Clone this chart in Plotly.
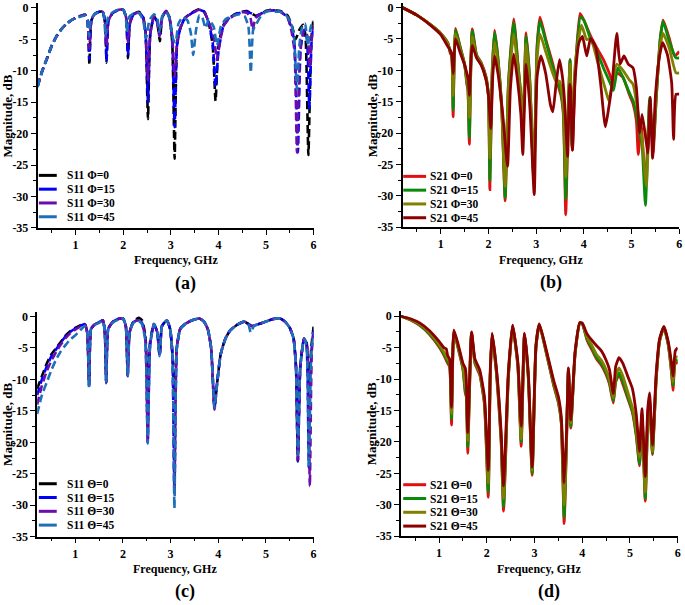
import plotly.graph_objects as go

W, H = 685, 605

# ---------------- data (frequency GHz, magnitude dB) ----------------
# Panel (a): S11 vs Phi
s11_phi0 = [(0.2,-12.5),(0.3,-10),(0.4,-8),(0.5,-6),(0.6,-4.5),(0.7,-3.4),(0.8,-2.6),(0.9,-2),(1.0,-1.6),(1.1,-1.3),(1.2,-1.1),(1.25,-2),(1.29,-9),(1.33,-2),(1.4,-1),(1.5,-0.6),(1.57,-0.6),(1.62,-2.5),(1.65,-8.7),(1.69,-2),(1.78,-0.8),(1.9,-0.3),(2.0,-0.3),(2.06,-1.5),(2.1,-8),(2.14,-2.5),(2.22,-1),(2.33,-0.6),(2.42,-1.5),(2.47,-4),(2.52,-17.7),(2.57,-4),(2.65,-1.3),(2.72,-2.5),(2.77,-5.3),(2.82,-1.5),(2.9,-0.5),(2.97,-1.5),(3.03,-5.5),(3.08,-24),(3.13,-6),(3.2,-3.2),(3.3,-1.6),(3.45,-0.7),(3.6,-0.2),(3.7,-0.6),(3.8,-2.5),(3.88,-6),(3.94,-14.8),(4.0,-6),(4.1,-2.8),(4.2,-1.8),(4.35,-1),(4.5,-0.6),(4.6,-0.5),(4.7,-0.9),(4.8,-1.3),(4.9,-0.9),(5.0,-0.5),(5.1,-0.3),(5.2,-0.4),(5.3,-0.5),(5.45,-1.2),(5.55,-3),(5.62,-5),(5.7,-3.5),(5.78,-2.7),(5.83,-4.5),(5.89,-23.4),(5.95,-5),(6.0,-1.6)]
s11_phi15 = [(0.2,-12.5),(0.3,-10),(0.4,-8),(0.5,-6),(0.6,-4.5),(0.7,-3.4),(0.8,-2.6),(0.9,-2),(1.0,-1.6),(1.1,-1.3),(1.2,-1.1),(1.25,-2),(1.29,-8.2),(1.33,-2),(1.4,-1),(1.5,-0.6),(1.57,-0.6),(1.62,-2.5),(1.65,-8.5),(1.69,-2),(1.78,-0.8),(1.9,-0.3),(2.0,-0.3),(2.06,-1.5),(2.1,-7.5),(2.14,-2.5),(2.22,-1),(2.33,-0.7),(2.42,-1.6),(2.47,-4),(2.52,-15),(2.57,-4),(2.65,-1.3),(2.72,-2.3),(2.77,-4.3),(2.82,-1.5),(2.9,-0.5),(2.97,-1.5),(3.03,-5),(3.08,-19),(3.13,-6),(3.2,-3.2),(3.3,-1.6),(3.45,-0.8),(3.6,-0.3),(3.7,-0.6),(3.8,-2.5),(3.88,-5.5),(3.94,-12.5),(4.0,-7),(4.1,-3),(4.2,-1.8),(4.35,-1),(4.5,-0.7),(4.6,-0.6),(4.7,-0.9),(4.8,-1.2),(4.9,-0.9),(5.0,-0.5),(5.1,-0.4),(5.2,-0.4),(5.3,-0.6),(5.45,-1.5),(5.55,-3.5),(5.6,-6),(5.67,-23),(5.73,-6),(5.8,-3.5),(5.86,-5),(5.91,-16),(5.96,-5),(6.0,-3)]
s11_phi30 = [(0.2,-12.5),(0.3,-10),(0.4,-8),(0.5,-6),(0.6,-4.5),(0.7,-3.4),(0.8,-2.6),(0.9,-2),(1.0,-1.6),(1.1,-1.3),(1.2,-1.1),(1.25,-2),(1.29,-6.5),(1.33,-2),(1.4,-1),(1.5,-0.6),(1.57,-0.6),(1.62,-2.3),(1.65,-6),(1.69,-2),(1.78,-0.8),(1.9,-0.3),(2.0,-0.3),(2.06,-1.5),(2.1,-5.5),(2.14,-2.3),(2.22,-1),(2.33,-0.8),(2.42,-1.8),(2.47,-4),(2.52,-11.5),(2.57,-4),(2.65,-1.3),(2.71,-2.2),(2.76,-4.5),(2.82,-1.5),(2.9,-0.5),(2.97,-1.6),(3.03,-4.5),(3.08,-11),(3.13,-5.5),(3.2,-3.2),(3.3,-1.6),(3.45,-0.8),(3.6,-0.3),(3.7,-0.6),(3.8,-2.3),(3.9,-4.5),(3.97,-8.3),(4.03,-5.5),(4.1,-3),(4.2,-1.9),(4.35,-1.1),(4.5,-0.7),(4.6,-0.8),(4.67,-1.5),(4.72,-3.5),(4.78,-1.6),(4.9,-0.9),(5.0,-0.5),(5.1,-0.4),(5.2,-0.4),(5.3,-0.6),(5.45,-1.5),(5.53,-3.5),(5.6,-7),(5.65,-23),(5.72,-7),(5.8,-3.5),(5.87,-4.5),(5.92,-9.5),(5.96,-5),(6.0,-3)]
s11_phi45 = [(0.2,-12.6),(0.3,-10),(0.4,-8),(0.5,-6),(0.6,-4.5),(0.7,-3.4),(0.8,-2.6),(0.9,-2),(1.0,-1.6),(1.1,-1.4),(1.2,-1.2),(1.25,-2),(1.28,-4.5),(1.32,-1.8),(1.4,-1),(1.5,-0.7),(1.58,-0.8),(1.63,-4.5),(1.68,-1.5),(1.78,-0.7),(1.9,-0.3),(2.0,-0.3),(2.05,-1.2),(2.08,-3.8),(2.12,-1.5),(2.22,-0.9),(2.33,-0.8),(2.42,-2),(2.48,-4.8),(2.55,-2),(2.65,-1),(2.72,-1.8),(2.76,-3.8),(2.82,-1.3),(2.9,-0.6),(2.98,-1.8),(3.05,-5),(3.1,-5.5),(3.16,-2.5),(3.25,-1.5),(3.35,-2),(3.42,-4),(3.47,-7.5),(3.53,-3.5),(3.6,-1.2),(3.66,-1.5),(3.73,-3.2),(3.8,-1.8),(3.9,-3),(3.97,-6),(4.05,-3),(4.15,-1.8),(4.3,-1.3),(4.45,-1),(4.55,-1.3),(4.63,-3),(4.68,-10.3),(4.73,-3.5),(4.8,-2.5),(4.9,-1.2),(5.0,-0.6),(5.1,-0.5),(5.2,-0.6),(5.3,-0.6),(5.4,-1),(5.5,-2),(5.58,-4),(5.65,-13),(5.7,-6),(5.76,-3),(5.82,-2.5),(5.88,-6),(5.94,-3),(6.0,-2)]

# Panel (b): S21 vs Phi
s21_phi0 = [(0.2,0),(0.5,-1.2),(0.8,-2.8),(1.0,-4.1),(1.15,-5.6),(1.2,-7.3),(1.23,-7.6),(1.26,-17.4),(1.31,-3.3),(1.4,-6),(1.5,-9),(1.55,-12.3),(1.57,-13),(1.6,-21.8),(1.66,-3.4),(1.75,-7.5),(1.85,-8.8),(1.95,-11),(2.0,-14),(2.03,-29),(2.08,-10),(2.13,-3.6),(2.2,-8),(2.28,-16),(2.35,-30.8),(2.42,-12),(2.53,-1.8),(2.62,-9),(2.68,-14),(2.72,-21),(2.79,-4),(2.87,-12),(2.95,-27),(3.02,-6),(3.08,-1.5),(3.2,-5),(3.35,-9),(3.45,-12.2),(3.52,-14),(3.57,-17),(3.62,-33),(3.67,-18),(3.71,-8.3),(3.76,-22.7),(3.82,-10),(3.92,-0.9),(4.0,-2),(4.14,-4.5),(4.3,-6.8),(4.41,-8.3),(4.55,-10.8),(4.62,-12.2),(4.69,-10.4),(4.82,-11.1),(4.95,-13.8),(5.03,-15.3),(5.1,-18),(5.14,-23.4),(5.2,-18.5),(5.29,-28.4),(5.38,-14.8),(5.45,-23.2),(5.52,-14),(5.6,-5),(5.66,-2),(5.79,-4.9),(5.9,-7.7),(6.0,-7)]
s21_phi15 = [(0.2,0),(0.5,-1.2),(0.8,-2.8),(1.0,-4.1),(1.15,-5.7),(1.2,-7),(1.23,-7.4),(1.26,-16.3),(1.31,-3.6),(1.4,-6.1),(1.5,-9),(1.55,-12),(1.57,-12.8),(1.6,-20.7),(1.66,-3.7),(1.75,-7.6),(1.85,-8.9),(1.95,-11.2),(2.0,-14),(2.03,-27.5),(2.08,-10),(2.13,-3.9),(2.2,-8.2),(2.28,-16),(2.35,-30.3),(2.42,-12.2),(2.53,-2.3),(2.62,-9.3),(2.68,-14),(2.72,-20.5),(2.79,-4.5),(2.87,-12.2),(2.95,-27.5),(3.02,-6.5),(3.08,-2.1),(3.2,-5.3),(3.35,-9.5),(3.45,-11.7),(3.52,-13.5),(3.57,-16.5),(3.62,-30.5),(3.67,-17.5),(3.71,-8.3),(3.75,-22.1),(3.82,-10),(3.93,-1.5),(4.0,-2),(4.14,-5),(4.3,-7.5),(4.41,-9.6),(4.55,-12),(4.62,-13.2),(4.71,-9.6),(4.82,-11.1),(4.95,-13.5),(5.03,-14.8),(5.1,-17),(5.17,-20),(5.22,-22),(5.29,-31.5),(5.38,-14.3),(5.45,-22.1),(5.52,-14),(5.6,-5),(5.66,-2.2),(5.79,-5.4),(5.93,-8),(6.0,-8)]
s21_phi30 = [(0.2,0),(0.5,-1.2),(0.8,-2.8),(1.0,-4.1),(1.15,-5.8),(1.2,-6.8),(1.23,-7.2),(1.26,-14),(1.31,-4.2),(1.4,-6.5),(1.5,-9),(1.55,-11.5),(1.57,-12.3),(1.6,-17.5),(1.66,-4.6),(1.75,-7.8),(1.85,-9),(1.95,-11.5),(2.0,-14),(2.03,-24),(2.08,-10.5),(2.13,-5.5),(2.2,-9),(2.28,-16.5),(2.35,-28.5),(2.42,-13),(2.53,-4.2),(2.62,-10),(2.68,-14.5),(2.72,-19.5),(2.79,-5.8),(2.87,-13),(2.95,-26.5),(3.02,-8),(3.08,-4.2),(3.2,-7),(3.35,-10.5),(3.43,-12),(3.49,-11.7),(3.55,-14),(3.58,-17),(3.62,-27),(3.67,-16),(3.71,-9),(3.75,-19),(3.82,-9),(3.95,-2.8),(4.06,-5.1),(4.14,-4.9),(4.3,-9),(4.45,-13),(4.52,-14.8),(4.6,-12),(4.69,-9),(4.82,-10),(4.95,-11.5),(5.03,-12.2),(5.1,-15),(5.17,-18.5),(5.22,-21),(5.31,-28.4),(5.38,-16.4),(5.45,-21),(5.52,-13),(5.6,-6),(5.66,-4.1),(5.79,-6.5),(5.93,-10.4),(6.0,-10.4)]
s21_phi45 = [(0.2,0),(0.5,-1.2),(0.8,-2.9),(1.0,-4.3),(1.15,-6.2),(1.2,-6.8),(1.23,-7.4),(1.26,-10.5),(1.31,-5),(1.4,-7),(1.5,-9.1),(1.55,-10.5),(1.58,-11.5),(1.6,-14),(1.66,-6),(1.75,-8),(1.85,-9.2),(1.95,-11.5),(2.0,-14),(2.05,-19.3),(2.09,-11),(2.13,-7.7),(2.2,-10.5),(2.3,-17),(2.4,-25.3),(2.46,-13),(2.53,-7.4),(2.6,-11),(2.68,-17),(2.72,-23.4),(2.79,-9),(2.87,-16),(2.96,-29.8),(3.02,-11),(3.1,-7.7),(3.2,-10.5),(3.3,-15.5),(3.35,-16.6),(3.42,-12),(3.49,-8.3),(3.55,-11),(3.59,-14.3),(3.66,-23.7),(3.7,-12.2),(3.72,-13),(3.76,-22.7),(3.82,-11),(3.9,-5.5),(3.97,-4.6),(4.06,-7.7),(4.14,-4.9),(4.25,-6.4),(4.35,-12),(4.45,-19),(4.52,-16),(4.59,-12.2),(4.69,-4.1),(4.76,-9),(4.84,-7.7),(4.93,-9),(5.03,-9.6),(5.1,-12.7),(5.17,-20),(5.22,-17),(5.3,-21),(5.34,-23.2),(5.39,-14.3),(5.44,-24),(5.5,-14),(5.58,-8),(5.65,-5.6),(5.75,-7.5),(5.84,-12),(5.88,-21),(5.93,-13.8),(6.0,-13.8)]

# Panel (c): S11 vs Theta
s11_th0 = [(0.2,-11.5),(0.3,-9.5),(0.4,-7.5),(0.5,-6),(0.6,-5),(0.7,-4),(0.8,-3),(0.9,-2.3),(1.0,-1.8),(1.1,-1.4),(1.2,-1.2),(1.25,-2.5),(1.29,-11),(1.33,-2),(1.4,-1.3),(1.5,-0.9),(1.58,-0.6),(1.62,-2.5),(1.65,-10.5),(1.69,-2),(1.78,-0.9),(1.9,-0.4),(2.0,-0.3),(2.06,-1.5),(2.1,-9.3),(2.14,-2.5),(2.22,-0.8),(2.33,-0.2),(2.4,-0.6),(2.47,-3),(2.52,-10.8),(2.57,-4),(2.65,-1.2),(2.72,-2.5),(2.77,-6.2),(2.82,-1.5),(2.92,-0.6),(2.99,-2),(3.04,-6),(3.08,-13),(3.13,-5),(3.2,-2),(3.3,-1.2),(3.45,-0.6),(3.6,-0.3),(3.7,-0.8),(3.78,-2),(3.85,-5),(3.92,-14.5),(3.97,-11),(4.05,-6),(4.15,-3.5),(4.25,-2.2),(4.4,-1.3),(4.55,-0.8),(4.7,-1.5),(4.85,-1.2),(5.0,-0.8),(5.15,-0.4),(5.3,-0.3),(5.4,-0.8),(5.5,-1.8),(5.58,-3.5),(5.63,-8),(5.67,-23),(5.72,-8),(5.8,-3.5),(5.85,-4),(5.9,-12),(5.95,-5),(6.0,-1.6)]
s11_th15 = [(0.2,-12.5),(0.3,-10),(0.4,-8),(0.5,-6.3),(0.6,-5.2),(0.7,-4.1),(0.8,-3.1),(0.9,-2.4),(1.0,-1.9),(1.1,-1.5),(1.2,-1.2),(1.25,-2.5),(1.29,-11),(1.33,-2),(1.4,-1.3),(1.5,-0.9),(1.58,-0.6),(1.62,-2.5),(1.65,-10.5),(1.69,-2),(1.78,-0.9),(1.9,-0.4),(2.0,-0.3),(2.06,-1.5),(2.1,-9.5),(2.14,-2.5),(2.22,-0.9),(2.33,-0.5),(2.4,-1),(2.47,-3.5),(2.52,-20),(2.57,-4.5),(2.65,-1.2),(2.72,-2.5),(2.77,-6.3),(2.82,-1.5),(2.92,-0.6),(2.99,-2),(3.04,-6.5),(3.08,-28),(3.13,-5),(3.2,-2),(3.3,-1.2),(3.45,-0.6),(3.6,-0.3),(3.7,-0.8),(3.78,-2),(3.85,-5),(3.92,-14.5),(3.97,-11),(4.05,-6),(4.15,-3.5),(4.25,-2.2),(4.4,-1.3),(4.55,-0.8),(4.7,-1.5),(4.85,-1.2),(5.0,-0.8),(5.15,-0.4),(5.3,-0.3),(5.4,-0.8),(5.5,-1.8),(5.58,-3.5),(5.63,-8),(5.67,-23),(5.72,-8),(5.8,-3.5),(5.85,-4.5),(5.9,-24),(5.95,-6),(6.0,-2)]
s11_th30 = [(0.2,-14),(0.3,-11),(0.4,-8.7),(0.5,-7),(0.6,-5.6),(0.7,-4.4),(0.8,-3.4),(0.9,-2.6),(1.0,-2.1),(1.1,-1.6),(1.2,-1.3),(1.25,-2.5),(1.29,-11),(1.33,-2),(1.4,-1.3),(1.5,-0.9),(1.58,-0.6),(1.62,-2.5),(1.65,-10.5),(1.69,-2),(1.78,-0.9),(1.9,-0.4),(2.0,-0.3),(2.06,-1.5),(2.1,-9.5),(2.14,-2.5),(2.22,-0.9),(2.33,-0.6),(2.4,-1.1),(2.47,-3.5),(2.52,-20),(2.57,-4.5),(2.65,-1.2),(2.72,-2.5),(2.77,-6),(2.82,-1.5),(2.92,-0.6),(2.99,-2),(3.04,-6.5),(3.08,-28.3),(3.13,-5),(3.2,-2),(3.3,-1.2),(3.45,-0.6),(3.6,-0.3),(3.7,-0.8),(3.78,-2),(3.85,-5),(3.92,-14.8),(3.97,-11),(4.05,-6),(4.15,-3.5),(4.25,-2.2),(4.4,-1.3),(4.55,-0.8),(4.7,-1.5),(4.85,-1.2),(5.0,-0.8),(5.15,-0.4),(5.3,-0.3),(5.4,-0.8),(5.5,-1.8),(5.58,-3.5),(5.63,-8),(5.67,-23),(5.72,-8),(5.8,-3.5),(5.86,-4.5),(5.92,-27),(5.96,-6),(6.0,-2.5)]
s11_th45 = [(0.2,-15.5),(0.3,-12.5),(0.4,-10.5),(0.5,-8.5),(0.6,-6.8),(0.7,-5.5),(0.8,-4.5),(0.9,-3.6),(1.0,-3),(1.1,-2.2),(1.2,-1.5),(1.25,-2.5),(1.29,-11.3),(1.33,-2),(1.4,-1.4),(1.5,-1),(1.58,-0.7),(1.62,-2.5),(1.65,-10.6),(1.69,-2),(1.78,-1),(1.9,-0.5),(2.0,-0.3),(2.06,-1.5),(2.1,-9.5),(2.14,-2.5),(2.22,-1),(2.33,-0.7),(2.4,-1.2),(2.47,-3.8),(2.52,-20.2),(2.57,-4.5),(2.65,-1.2),(2.72,-2.5),(2.77,-6.3),(2.82,-1.5),(2.92,-0.6),(2.99,-2),(3.04,-6.5),(3.08,-30.5),(3.13,-5),(3.2,-2),(3.3,-1.2),(3.45,-0.6),(3.6,-0.3),(3.7,-0.8),(3.78,-2),(3.85,-5),(3.92,-14.5),(3.97,-11),(4.05,-6),(4.15,-3.5),(4.25,-2.2),(4.4,-1.3),(4.55,-0.8),(4.63,-1.2),(4.68,-2.5),(4.75,-1.5),(4.85,-1.2),(5.0,-0.8),(5.15,-0.4),(5.3,-0.3),(5.4,-0.8),(5.5,-1.8),(5.58,-3.5),(5.63,-8),(5.67,-22),(5.72,-8),(5.8,-3.5),(5.85,-4.5),(5.9,-24),(5.95,-6),(6.0,-2.5)]

# Panel (d): S21 vs Theta
s21_th0 = [(0.2,0),(0.4,-0.6),(0.6,-1.5),(0.8,-2.9),(1.0,-4.9),(1.1,-6.2),(1.18,-7.5),(1.22,-8),(1.26,-17.3),(1.31,-2.6),(1.4,-5.2),(1.5,-8.5),(1.55,-12.3),(1.57,-12.8),(1.6,-21.8),(1.68,-2.8),(1.75,-7.5),(1.85,-9.3),(1.95,-14),(2.03,-28.8),(2.07,-10),(2.11,-3),(2.2,-9),(2.3,-20),(2.35,-31),(2.45,-10),(2.54,-1.6),(2.65,-8),(2.72,-20.7),(2.79,-3),(2.87,-10),(2.95,-25.3),(3.03,-5),(3.1,-1.4),(3.25,-6),(3.4,-11),(3.5,-13.8),(3.56,-17),(3.62,-33),(3.67,-20),(3.71,-8.5),(3.76,-17.8),(3.85,-6),(3.95,-1.1),(4.0,-1.2),(4.1,-3.8),(4.2,-5.3),(4.3,-6.8),(4.4,-7.8),(4.5,-9.3),(4.57,-10.8),(4.65,-13.8),(4.7,-10.5),(4.77,-9.3),(4.85,-10.8),(4.95,-13),(5.05,-15.3),(5.13,-19),(5.2,-23.8),(5.25,-16),(5.32,-29.4),(5.37,-17),(5.41,-13.5),(5.47,-22),(5.55,-10),(5.62,-4),(5.71,-1.8),(5.8,-4.5),(5.87,-9),(5.9,-11.8),(5.95,-7),(6.0,-7.6)]
s21_th15 = [(0.2,0),(0.4,-0.55),(0.6,-1.4),(0.8,-2.8),(1.0,-4.7),(1.1,-6),(1.18,-7.2),(1.22,-7.7),(1.26,-16.3),(1.31,-2.5),(1.4,-5),(1.5,-8.3),(1.55,-12),(1.57,-12.5),(1.6,-20.8),(1.68,-2.7),(1.75,-7.3),(1.85,-9.1),(1.95,-13.7),(2.03,-28),(2.07,-10),(2.11,-2.9),(2.2,-8.8),(2.3,-19.7),(2.35,-30.3),(2.45,-9.8),(2.54,-1.5),(2.65,-7.9),(2.72,-20),(2.79,-2.9),(2.87,-9.8),(2.95,-25),(3.03,-4.9),(3.1,-1.3),(3.25,-5.9),(3.4,-10.8),(3.5,-13.6),(3.56,-16.8),(3.62,-32),(3.67,-19.8),(3.71,-8.4),(3.76,-17.5),(3.85,-5.9),(3.95,-1.1),(4.0,-1.2),(4.1,-3.6),(4.2,-5),(4.3,-6.6),(4.4,-7.5),(4.5,-9),(4.57,-10.5),(4.65,-13.5),(4.7,-10.3),(4.77,-9),(4.85,-10.4),(4.95,-12.7),(5.05,-15),(5.13,-18.7),(5.2,-23.5),(5.25,-15.8),(5.32,-29),(5.37,-16.8),(5.41,-13.3),(5.47,-21.8),(5.55,-9.8),(5.62,-3.9),(5.71,-1.8),(5.8,-4.4),(5.87,-8.8),(5.9,-11),(5.95,-6.8),(6.0,-7.2)]
s21_th30 = [(0.2,0),(0.4,-0.5),(0.6,-1.3),(0.8,-2.6),(1.0,-4.5),(1.1,-5.7),(1.18,-6.8),(1.22,-7.3),(1.26,-15.5),(1.31,-2.4),(1.4,-4.8),(1.5,-8),(1.55,-11),(1.57,-11.8),(1.6,-19.8),(1.68,-2.6),(1.75,-7.1),(1.85,-8.9),(1.95,-13.3),(2.03,-26.5),(2.07,-9.5),(2.11,-2.8),(2.2,-8.5),(2.3,-19.2),(2.35,-29),(2.45,-9.5),(2.54,-1.5),(2.65,-7.6),(2.72,-19.5),(2.79,-2.8),(2.87,-9.5),(2.95,-24.5),(3.03,-4.7),(3.1,-1.3),(3.25,-5.7),(3.4,-10.5),(3.5,-13.3),(3.56,-16.5),(3.62,-30),(3.67,-19.3),(3.71,-8.3),(3.76,-17),(3.85,-5.8),(3.95,-1.1),(4.0,-1.2),(4.1,-3.3),(4.2,-4.6),(4.3,-6.1),(4.4,-7),(4.5,-8.5),(4.57,-10),(4.65,-13),(4.7,-9.5),(4.77,-8.2),(4.85,-9.5),(4.95,-12),(5.05,-14.5),(5.13,-18),(5.2,-22.5),(5.25,-15.4),(5.32,-28),(5.37,-16.3),(5.41,-13),(5.47,-21.5),(5.55,-9.5),(5.62,-3.8),(5.71,-1.7),(5.8,-4.3),(5.87,-8.3),(5.9,-10.5),(5.95,-6.5),(6.0,-6.5)]
s21_th45 = [(0.2,0),(0.4,-0.4),(0.6,-1.1),(0.8,-2.3),(1.0,-4),(1.1,-5),(1.15,-5.2),(1.18,-6.3),(1.22,-6.8),(1.26,-14.5),(1.31,-2.2),(1.4,-4.5),(1.5,-7.5),(1.55,-8.3),(1.57,-10),(1.6,-18.5),(1.68,-2.5),(1.75,-6.8),(1.85,-8.5),(1.95,-12.8),(2.03,-24.5),(2.07,-9),(2.11,-2.7),(2.2,-8.2),(2.3,-18.5),(2.35,-27),(2.45,-9),(2.54,-1.4),(2.65,-7.3),(2.72,-17.5),(2.79,-2.7),(2.87,-9.2),(2.95,-24),(3.03,-4.5),(3.1,-1.2),(3.25,-5.5),(3.4,-10.2),(3.5,-12.8),(3.56,-16),(3.62,-26.5),(3.67,-18.5),(3.71,-8.2),(3.76,-16.5),(3.85,-5.6),(3.95,-1),(4.0,-1.1),(4.1,-2.8),(4.2,-3.8),(4.3,-4.7),(4.4,-5.5),(4.5,-7),(4.57,-8.5),(4.65,-12.3),(4.7,-8),(4.77,-6.6),(4.85,-7.5),(4.95,-9.5),(5.05,-11.5),(5.13,-15.5),(5.2,-21.5),(5.25,-14.7),(5.32,-25.5),(5.37,-15),(5.41,-12.2),(5.47,-20.5),(5.55,-9),(5.62,-3.6),(5.71,-1.6),(5.8,-4),(5.87,-7.5),(5.9,-9.5),(5.95,-5.5),(6.0,-5)]

names_a = ["S11 \u03a6=0", "S11 \u03a6=15", "S11 \u03a6=30", "S11 \u03a6=45"]
names_b = ["S21 \u03a6=0", "S21 \u03a6=15", "S21 \u03a6=30", "S21 \u03a6=45"]
names_c = ["S11 \u0398=0", "S11 \u0398=15", "S11 \u0398=30", "S11 \u0398=45"]
names_d = ["S21 \u0398=0", "S21 \u0398=15", "S21 \u0398=30", "S21 \u0398=45"]
x_ticks = [1, 2, 3, 4, 5, 6]
y_ticks = [0, -5, -10, -15, -20, -25, -30, -35]
panel_labels = ["(a)", "(b)", "(c)", "(d)"]

# ---------------- styling ----------------
FONT = "Liberation Serif"
S11_COLORS = ["#000000", "#0000ff", "#6a0dad", "#1f6fb8"]
S21_COLORS = ["#e01010", "#0a8a0a", "#808000", "#8b0000"]

# panel pixel geometry: x at f=0.2, x at f=6, y at 0 dB, y at -35 dB
GEOM = [
    (37.7, 315.0, 6.0, 229.3),
    (404.3, 682.3, 5.7, 228.7),
    (37.3, 315.0, 319.3, 542.7),
    (402.7, 680.7, 319.0, 542.3),
]
YTOP = 0.8
# legend geometry (pixels): first row centre, swatch start/end, text left
LEG = [
    (176, 39, 57, 65),
    (177, 405, 428, 430),
    (489, 39, 57, 65),
    (490, 405, 428, 430),
]
ROW_STEP = 14.0

def unzip(pairs):
    return [p[0] for p in pairs], [p[1] for p in pairs]

fig = go.Figure()

panels = [
    ([s11_phi0, s11_phi15, s11_phi30, s11_phi45], names_a, S11_COLORS, True),
    ([s21_phi0, s21_phi15, s21_phi30, s21_phi45], names_b, S21_COLORS, False),
    ([s11_th0, s11_th15, s11_th30, s11_th45], names_c, S11_COLORS, True),
    ([s21_th0, s21_th15, s21_th30, s21_th45], names_d, S21_COLORS, False),
]

layout = dict(
    width=W, height=H, margin=dict(l=0, r=0, t=0, b=0),
    paper_bgcolor="white", plot_bgcolor="white", showlegend=False,
    font=dict(family=FONT, size=12, color="black", weight="bold"),
    annotations=[], shapes=[],
)

for i, (series, names, colors, dashed) in enumerate(panels):
    k = i + 1
    xa = "x" if k == 1 else f"x{k}"
    ya = "y" if k == 1 else f"y{k}"
    lw = 2.6 if dashed else 2.8
    for s, name, c in zip(series, names, colors):
        fx, fy = unzip(s)
        fig.add_trace(go.Scatter(
            x=fx, y=fy, mode="lines", name=name, xaxis=xa, yaxis=ya,
            line=dict(color=c, width=lw, dash="8px,4px" if dashed else "solid",
                      shape="spline", smoothing=0.5),
        ))
    x0, x6, y0, y35 = GEOM[i]
    ppd = (y35 - y0) / 35.0
    top = max(0.0, y0 - YTOP * ppd)
    ytop_val = (y0 - top) / ppd
    axcommon = dict(showgrid=False, zeroline=False, showline=True, linecolor="black",
                    linewidth=1.5, ticks="outside", ticklen=5, tickwidth=1.3,
                    tickcolor="black",
                    tickfont=dict(family=FONT, size=12, color="black", weight="bold"))
    layout["xaxis" if k == 1 else f"xaxis{k}"] = dict(
        axcommon, domain=[x0 / W, x6 / W], range=[0.2, 6], anchor=ya,
        tickvals=x_ticks, ticktext=[str(v) for v in x_ticks],
        minor=dict(dtick=0.5, tick0=0, ticks="outside", ticklen=3, tickwidth=1, tickcolor="black"),
    )
    layout["yaxis" if k == 1 else f"yaxis{k}"] = dict(
        axcommon, domain=[1 - y35 / H, min(1.0, 1 - top / H)], range=[-35, ytop_val], anchor=xa,
        tickvals=y_ticks, ticktext=[str(v) for v in y_ticks],
        minor=dict(dtick=2.5, tick0=0, ticks="outside", ticklen=3, tickwidth=1, tickcolor="black"),
    )
    # legend drawn as swatches + text
    row0, sx0, sx1, tx = LEG[i]
    for j, (name, c) in enumerate(zip(names, colors)):
        ry = row0 + j * ROW_STEP
        layout["shapes"].append(dict(
            type="line", xref="paper", yref="paper",
            x0=sx0 / W, x1=sx1 / W, y0=1 - ry / H, y1=1 - ry / H,
            line=dict(color=c, width=3),
        ))
        layout["annotations"].append(dict(
            text=name, x=tx / W, y=1 - ry / H, xref="paper", yref="paper",
            showarrow=False, xanchor="left", yanchor="middle",
            font=dict(family=FONT, size=11.5, color="black", weight="bold"),
        ))
    xc = (x0 + x6) / 2
    layout["annotations"] += [
        dict(text="Frequency, GHz", x=xc / W, y=1 - (y35 + 33) / H,
             xref="paper", yref="paper", showarrow=False, xanchor="center", yanchor="middle",
             font=dict(family=FONT, size=12, weight="bold")),
        dict(text="Magnitude, dB", x=(x0 - 30) / W, y=1 - ((y0 + y35) / 2 - 2) / H,
             xref="paper", yref="paper", showarrow=False, textangle=-90,
             xanchor="center", yanchor="middle",
             font=dict(family=FONT, size=13, weight="bold")),
        dict(text=panel_labels[i], x=(xc + 10) / W, y=1 - (y35 + 56) / H,
             xref="paper", yref="paper", showarrow=False, xanchor="center", yanchor="middle",
             font=dict(family=FONT, size=18, weight="bold")),
    ]

fig.update_layout(**layout)
fig.write_html("out.html", config={"displayModeBar": False},
               post_script="document.body.style.margin='0px';")
